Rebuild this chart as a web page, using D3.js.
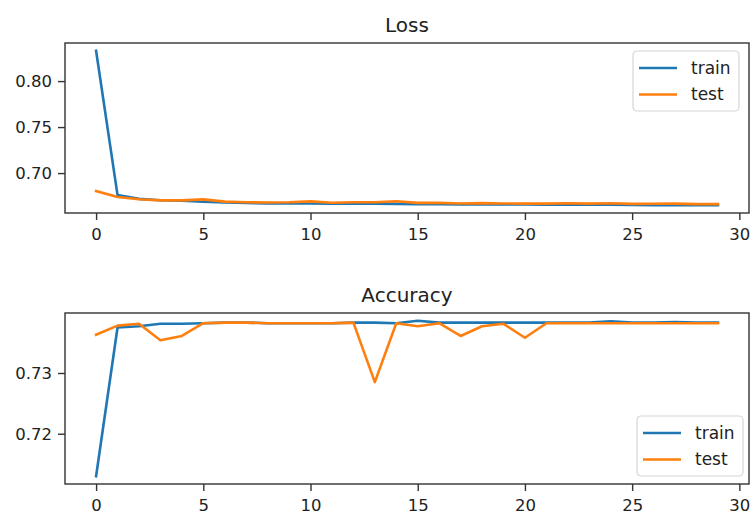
<!DOCTYPE html>
<html>
<head>
<meta charset="utf-8">
<script src="https://cdn.jsdelivr.net/npm/d3@7"></script>
<style>
  html, body { margin: 0; padding: 0; background: #fff; }
  svg { display: block; }
  text { font-family: "DejaVu Sans", sans-serif; fill: #222; }
</style>
</head>
<body>
<svg id="chart" width="751" height="513"></svg>
<script>
const epochs = [0,1,2,3,4,5,6,7,8,9,10,11,12,13,14,15,16,17,18,19,20,21,22,23,24,25,26,27,28,29];

const trainLoss = [0.833, 0.676, 0.672, 0.6705, 0.670, 0.669, 0.668, 0.6675, 0.667, 0.667,
                   0.667, 0.6668, 0.6667, 0.6666, 0.6665, 0.6663, 0.6662, 0.666, 0.666, 0.666,
                   0.6658, 0.6657, 0.6656, 0.6655, 0.6655, 0.6653, 0.6652, 0.665, 0.665, 0.665];
const testLoss  = [0.6805, 0.674, 0.6715, 0.6703, 0.6703, 0.6714, 0.669, 0.6683, 0.668, 0.6683,
                   0.6692, 0.6677, 0.6683, 0.6683, 0.6693, 0.6676, 0.6676, 0.667, 0.6673, 0.667,
                   0.6668, 0.6668, 0.6672, 0.6668, 0.6672, 0.6665, 0.6666, 0.6668, 0.6662, 0.6662];

const trainAcc = [0.7130, 0.7375, 0.7377, 0.7381, 0.7381, 0.7382, 0.7383, 0.7383, 0.7382, 0.7382,
                  0.7382, 0.7382, 0.7383, 0.7383, 0.7382, 0.7386, 0.7383, 0.7383, 0.7383, 0.7383,
                  0.7383, 0.7383, 0.7383, 0.7383, 0.7385, 0.7383, 0.7383, 0.7384, 0.7383, 0.7383];
const testAcc  = [0.7363, 0.7378, 0.7381, 0.7354, 0.7361, 0.7382, 0.7383, 0.7383, 0.7382, 0.7382,
                  0.7382, 0.7382, 0.7383, 0.7285, 0.7382, 0.7377, 0.7382, 0.7361, 0.7377, 0.7381,
                  0.7358, 0.7382, 0.7382, 0.7382, 0.7382, 0.7382, 0.7382, 0.7382, 0.7382, 0.7382];

const xTicks = [0, 5, 10, 15, 20, 25, 30];
const lossTicks = [0.70, 0.75, 0.80];
const accTicks = [0.72, 0.73];
const seriesNames = ["train", "test"];
const titles = ["Loss", "Accuracy"];

const colors = ["#1f77b4", "#ff7f0e"];
const svg = d3.select("#chart");

function panel(cfg) {
  const {top, bottom, left, right, title, series, yTicks, legendPos} = cfg;
  const g = svg.append("g");
  const x = d3.scaleLinear().domain([-1.45, 30.45]).range([left, right]);
  const all = series.flat();
  const mn = d3.min(all), mx = d3.max(all), d = mx - mn;
  const y = d3.scaleLinear().domain([mn - 0.05 * d, mx + 0.05 * d]).range([bottom, top]);

  // lines
  const line = d3.line().x((v, i) => x(epochs[i])).y(v => y(v));
  series.forEach((s, k) => {
    g.append("path").datum(s)
      .attr("d", line)
      .attr("fill", "none")
      .attr("stroke", colors[k])
      .attr("stroke-width", 2.6)
      .attr("stroke-linejoin", "round")
      .attr("stroke-linecap", "square");
  });

  // axes
  const xAxis = d3.axisBottom(x).tickValues(xTicks).tickFormat(d3.format("d")).tickSize(7).tickPadding(6);
  const yAxis = d3.axisLeft(y).tickValues(yTicks).tickFormat(d3.format(".2f")).tickSize(7).tickPadding(6);
  const gx = g.append("g").attr("transform", `translate(0,${bottom})`).call(xAxis);
  const gy = g.append("g").attr("transform", `translate(${left},0)`).call(yAxis);
  [gx, gy].forEach(a => {
    a.select(".domain").remove();
    a.selectAll(".tick line").attr("stroke", "#333").attr("stroke-width", 1.4);
    a.selectAll(".tick text").attr("font-size", 16.5).attr("font-family", "DejaVu Sans").attr("fill", "#222");
  });
  gx.selectAll(".tick text").attr("dy", "0.85em");

  // frame
  g.append("rect").attr("x", left).attr("y", top)
    .attr("width", right - left).attr("height", bottom - top)
    .attr("fill", "none").attr("stroke", "#333").attr("stroke-width", 1.4);

  // title
  g.append("text").attr("x", (left + right) / 2).attr("y", top - 11)
    .attr("text-anchor", "middle").attr("font-size", 20).text(title);

  // legend
  const lg = g.append("g").attr("transform", `translate(${legendPos[0]},${legendPos[1]})`);
  lg.append("rect").attr("x", 0).attr("y", 0).attr("width", 106).attr("height", 60)
    .attr("rx", 4).attr("fill", "#fff").attr("fill-opacity", 0.8)
    .attr("stroke", "#d6d6d6").attr("stroke-width", 1.2);
  seriesNames.forEach((n, k) => {
    const yy = 17 + k * 26.5;
    lg.append("line").attr("x1", 6).attr("x2", 44).attr("y1", yy).attr("y2", yy)
      .attr("stroke", colors[k]).attr("stroke-width", 2.6);
    lg.append("text").attr("x", 58).attr("y", yy).attr("dy", "0.35em")
      .attr("font-size", 17).text(n);
  });
}

panel({top: 43, bottom: 213, left: 65, right: 749, title: titles[0],
       series: [trainLoss, testLoss], yTicks: lossTicks, legendPos: [633, 51]});
panel({top: 313, bottom: 484, left: 65, right: 749, title: titles[1],
       series: [trainAcc, testAcc], yTicks: accTicks, legendPos: [637, 416]});
</script>
</body>
</html>
